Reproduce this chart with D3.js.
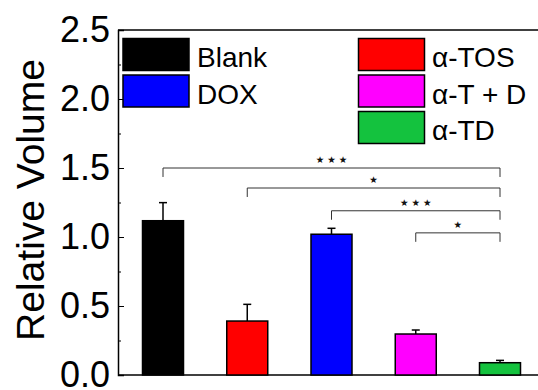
<!DOCTYPE html>
<html>
<head>
<meta charset="utf-8">
<script src="https://cdn.jsdelivr.net/npm/d3@7"></script>
<style>
  body { margin: 0; background: #fff; }
  svg { display: block; font-family: "Liberation Sans", Arial, sans-serif; }
</style>
</head>
<body>
<div class="chart"></div>
<script>
// data
const groups = ["Blank", "α-TOS", "DOX", "α-T + D", "α-TD"]
const values = [1.118, 0.391, 1.02, 0.297, 0.089]
const errors = [0.131, 0.121, 0.043, 0.029, 0.017]
const colors = ["#000000", "#ff0000", "#0000ff", "#ff00ff", "#14c23e"]
const yTicks = [0, 0.5, 1.0, 1.5, 2.0, 2.5]
const yMinor = [0.25, 0.75, 1.25, 1.75, 2.25]

// significance brackets: from group, to group, level, stars
const sigFrom = ["Blank", "α-TOS", "DOX", "α-T + D"]
const sigTo = ["α-TD", "α-TD", "α-TD", "α-TD"]
const sigLevel = [1.50, 1.355, 1.19, 1.03]
const sigStars = ["★ ★ ★", "★", "★ ★ ★", "★"]

// legend columns
const legendLeft = ["Blank", "DOX"]
const legendRight = ["α-TOS", "α-T + D", "α-TD"]

const w = 538
const h = 390

const svg = d3.select(".chart")
  .append("svg")
  .attr("width", w)
  .attr("height", h)

const x0 = 118
const yScale = d3.scaleLinear().domain([0, 2.5]).range([375, 30])
const xScale = d3.scalePoint().domain(groups).range([163, 500])
const color = d3.scaleOrdinal().domain(groups).range(colors)
const barW = 41

// frame lines (top + bottom)
svg.append("line")
  .attr("x1", x0).attr("x2", w)
  .attr("y1", yScale(2.5)).attr("y2", yScale(2.5))
  .attr("stroke", "#000").attr("stroke-width", 1.5)
svg.append("line")
  .attr("x1", x0).attr("x2", w)
  .attr("y1", yScale(0)).attr("y2", yScale(0))
  .attr("stroke", "#000").attr("stroke-width", 1.5)

// y axis, ticks pointing inward
const yAxis = d3.axisLeft(yScale)
  .tickValues(yTicks)
  .tickSize(-6)
  .tickPadding(8)
  .tickFormat(d3.format(".1f"))
const gy = svg.append("g")
  .attr("transform", "translate(" + x0 + ",0)")
  .call(yAxis)
gy.select(".domain").attr("stroke-width", 1.5)
gy.selectAll("text")
  .style("font-size", "36px")
  .style("font-family", "Liberation Sans, Arial, sans-serif")
  .attr("fill", "#000")

svg.append("g")
  .attr("transform", "translate(" + x0 + ",0)")
  .call(d3.axisLeft(yScale).tickValues(yMinor).tickSize(-3).tickFormat(""))
  .select(".domain").remove()

svg.append("text")
  .attr("transform", "translate(44,200) rotate(-90)")
  .attr("text-anchor", "middle")
  .style("font-size", "39px")
  .text("Relative Volume")

// error bars (upper only)
const err = svg.append("g").attr("stroke", "#000").attr("stroke-width", 1.5)
err.selectAll("line.v")
  .data(groups)
  .enter()
  .append("line")
  .attr("x1", d => xScale(d)).attr("x2", d => xScale(d))
  .attr("y1", (d, i) => yScale(values[i]))
  .attr("y2", (d, i) => yScale(values[i] + errors[i]))
err.selectAll("line.c")
  .data(groups)
  .enter()
  .append("line")
  .attr("x1", d => xScale(d) - 4).attr("x2", d => xScale(d) + 4)
  .attr("y1", (d, i) => yScale(values[i] + errors[i]))
  .attr("y2", (d, i) => yScale(values[i] + errors[i]))

// bars
svg.selectAll("rect.bar")
  .data(groups)
  .enter()
  .append("rect")
  .attr("class", "bar")
  .attr("x", d => xScale(d) - barW / 2)
  .attr("y", (d, i) => yScale(values[i]))
  .attr("width", barW)
  .attr("height", (d, i) => yScale(0) - yScale(values[i]))
  .attr("fill", d => color(d))
  .attr("stroke", "#000")
  .attr("stroke-width", 1.5)

// significance brackets
const drop = 0.065
const sig = svg.selectAll("g.sig")
  .data(sigFrom)
  .enter()
  .append("g")
sig.append("path")
  .attr("d", (d, i) => {
    const a = xScale(d), b = xScale(sigTo[i])
    const yl = yScale(sigLevel[i]), yd = yScale(sigLevel[i] - drop)
    return "M" + a + "," + yd + "V" + yl + "H" + b + "V" + yd
  })
  .attr("fill", "none")
  .attr("stroke", "#333")
  .attr("stroke-width", 1)
sig.append("text")
  .attr("x", (d, i) => (xScale(d) + xScale(sigTo[i])) / 2)
  .attr("y", (d, i) => yScale(sigLevel[i]) - 5)
  .attr("text-anchor", "middle")
  .style("font-family", "DejaVu Sans, sans-serif")
  .style("font-size", "9.5px")
  .attr("fill", "#111")
  .text((d, i) => sigStars[i])

// legend
const drawLegend = (items, bx, tx, top) => {
  const g = svg.append("g")
  items.forEach((name, i) => {
    const y = top + i * 36.5
    g.append("rect")
      .attr("x", bx).attr("y", y)
      .attr("width", 66).attr("height", 32)
      .attr("fill", color(name))
      .attr("stroke", "#000").attr("stroke-width", 1.5)
    g.append("text")
      .attr("x", tx).attr("y", y + 28.5)
      .style("font-size", "28px")
      .text(name)
  })
}
drawLegend(legendLeft, 123, 197, 38.5)
drawLegend(legendRight, 358.5, 432, 38.5)
</script>
</body>
</html>
